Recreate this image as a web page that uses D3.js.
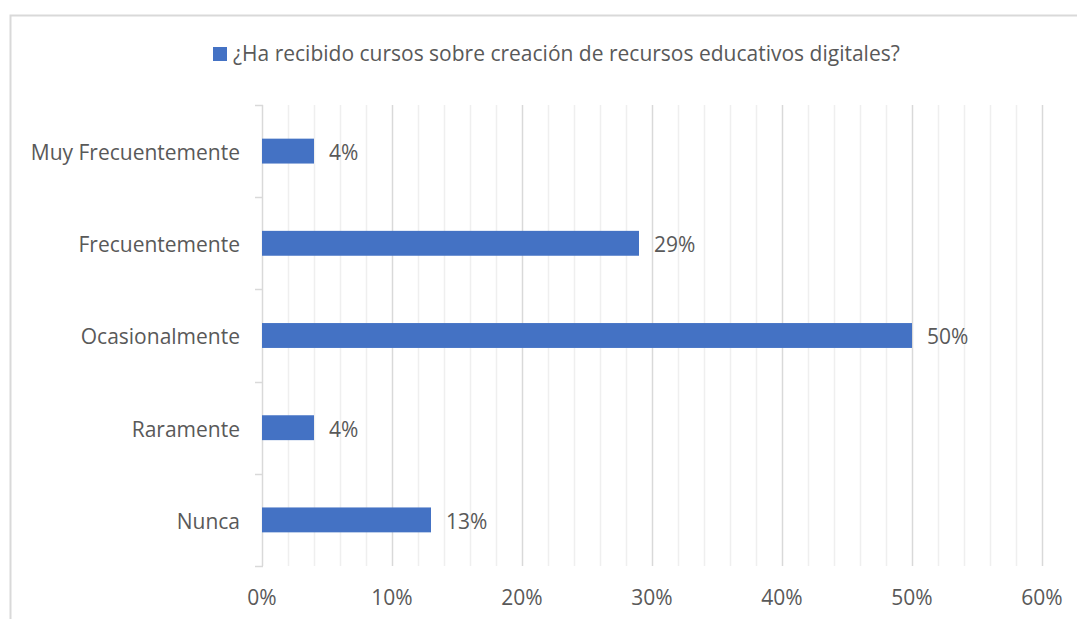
<!DOCTYPE html>
<html>
<head>
<meta charset="utf-8">
<script src="https://cdn.jsdelivr.net/npm/d3@7"></script>
<style>
  body { margin: 0; background: #fff; }
  text { font-family: "Open Sans", "Liberation Sans", sans-serif; fill: #595959; }
</style>
</head>
<body>
<div id="visualizationTarget"></div>
<script>
var categories = ["Muy Frecuentemente", "Frecuentemente", "Ocasionalmente", "Raramente", "Nunca"];
var values = [4, 29, 50, 4, 13];
var xTicks = [0, 10, 20, 30, 40, 50, 60];
var legendLabel = "¿Ha recibido cursos sobre creación de recursos educativos digitales?";

var width = 1077;
var height = 619;
var barColor = "#4472c4";
var fontSize = 21;

var svg = d3.select("#visualizationTarget")
    .append("svg")
    .attr("width", width)
    .attr("height", height);

// chart border (runs off the right and bottom edges)
svg.append("rect")
    .attr("x", 10.5).attr("y", 15.5)
    .attr("width", 1200).attr("height", 800)
    .attr("fill", "none")
    .attr("stroke", "#d9d9d9")
    .attr("stroke-width", 2);

var x = d3.scaleLinear()
    .domain([0, 60])
    .range([262, 1042]);

var y = d3.scaleBand()
    .domain(categories)
    .range([105, 566])
    .paddingInner(0.73)
    .paddingOuter(0.365);

// minor gridlines every 2%
svg.append("g")
    .selectAll("line")
    .data(d3.range(2, 61, 2).filter(function(d){ return d % 10 != 0; }))
    .enter()
        .append("line")
        .attr("x1", function(d){ return Math.round(x(d)) + 0.5; })
        .attr("x2", function(d){ return Math.round(x(d)) + 0.5; })
        .attr("y1", 105)
        .attr("y2", 566)
        .attr("stroke", "#efefef")
        .attr("stroke-width", 1.5);

// major gridlines
svg.append("g")
    .selectAll("line")
    .data(xTicks.slice(1))
    .enter()
        .append("line")
        .attr("x1", function(d){ return Math.round(x(d)) + 0.5; })
        .attr("x2", function(d){ return Math.round(x(d)) + 0.5; })
        .attr("y1", 105)
        .attr("y2", 566)
        .attr("stroke", "#d9d9d9")
        .attr("stroke-width", 1.5);

// category axis line and ticks between bands
var boundaries = d3.range(categories.length + 1).map(function(i){
    return 105 + i * (566 - 105) / categories.length;
});
svg.append("line")
    .attr("x1", 262.5).attr("x2", 262.5)
    .attr("y1", 105).attr("y2", 566)
    .attr("stroke", "#d9d9d9")
    .attr("stroke-width", 1.5);
svg.append("g")
    .selectAll("line")
    .data(boundaries)
    .enter()
        .append("line")
        .attr("x1", 255)
        .attr("x2", 263)
        .attr("y1", function(d){ return Math.round(d) + 0.5; })
        .attr("y2", function(d){ return Math.round(d) + 0.5; })
        .attr("stroke", "#d9d9d9")
        .attr("stroke-width", 1.5);

// bars
svg.append("g")
    .selectAll("rect")
    .data(values)
    .enter()
        .append("rect")
        .attr("x", x(0))
        .attr("y", function(d, i){ return y(categories[i]); })
        .attr("width", function(d){ return x(d) - x(0); })
        .attr("height", y.bandwidth())
        .attr("fill", barColor);

// value labels
svg.append("g")
    .selectAll("text")
    .data(values)
    .enter()
        .append("text")
        .attr("x", function(d){ return x(d) + 15; })
        .attr("y", function(d, i){ return y(categories[i]) + y.bandwidth() / 2; })
        .attr("dy", "0.42em")
        .style("font-size", fontSize + "px")
        .text(function(d){ return d + "%"; });

// category labels
svg.append("g")
    .selectAll("text")
    .data(categories)
    .enter()
        .append("text")
        .attr("x", 240)
        .attr("y", function(d){ return y(d) + y.bandwidth() / 2; })
        .attr("dy", "0.42em")
        .attr("text-anchor", "end")
        .style("font-size", fontSize + "px")
        .text(function(d){ return d; });

// x tick labels
svg.append("g")
    .selectAll("text")
    .data(xTicks)
    .enter()
        .append("text")
        .attr("x", function(d){ return x(d); })
        .attr("y", 598)
        .attr("dy", "0.35em")
        .attr("text-anchor", "middle")
        .style("font-size", fontSize + "px")
        .text(function(d){ return d + "%"; });

// legend
var legend = svg.append("g");
legend.append("rect")
    .attr("x", 213).attr("y", 47)
    .attr("width", 14).attr("height", 14)
    .attr("fill", barColor);
legend.append("text")
    .attr("x", 233)
    .attr("y", 54)
    .attr("dy", "0.35em")
    .style("font-size", fontSize + "px")
    .text(legendLabel);
</script>
</body>
</html>
